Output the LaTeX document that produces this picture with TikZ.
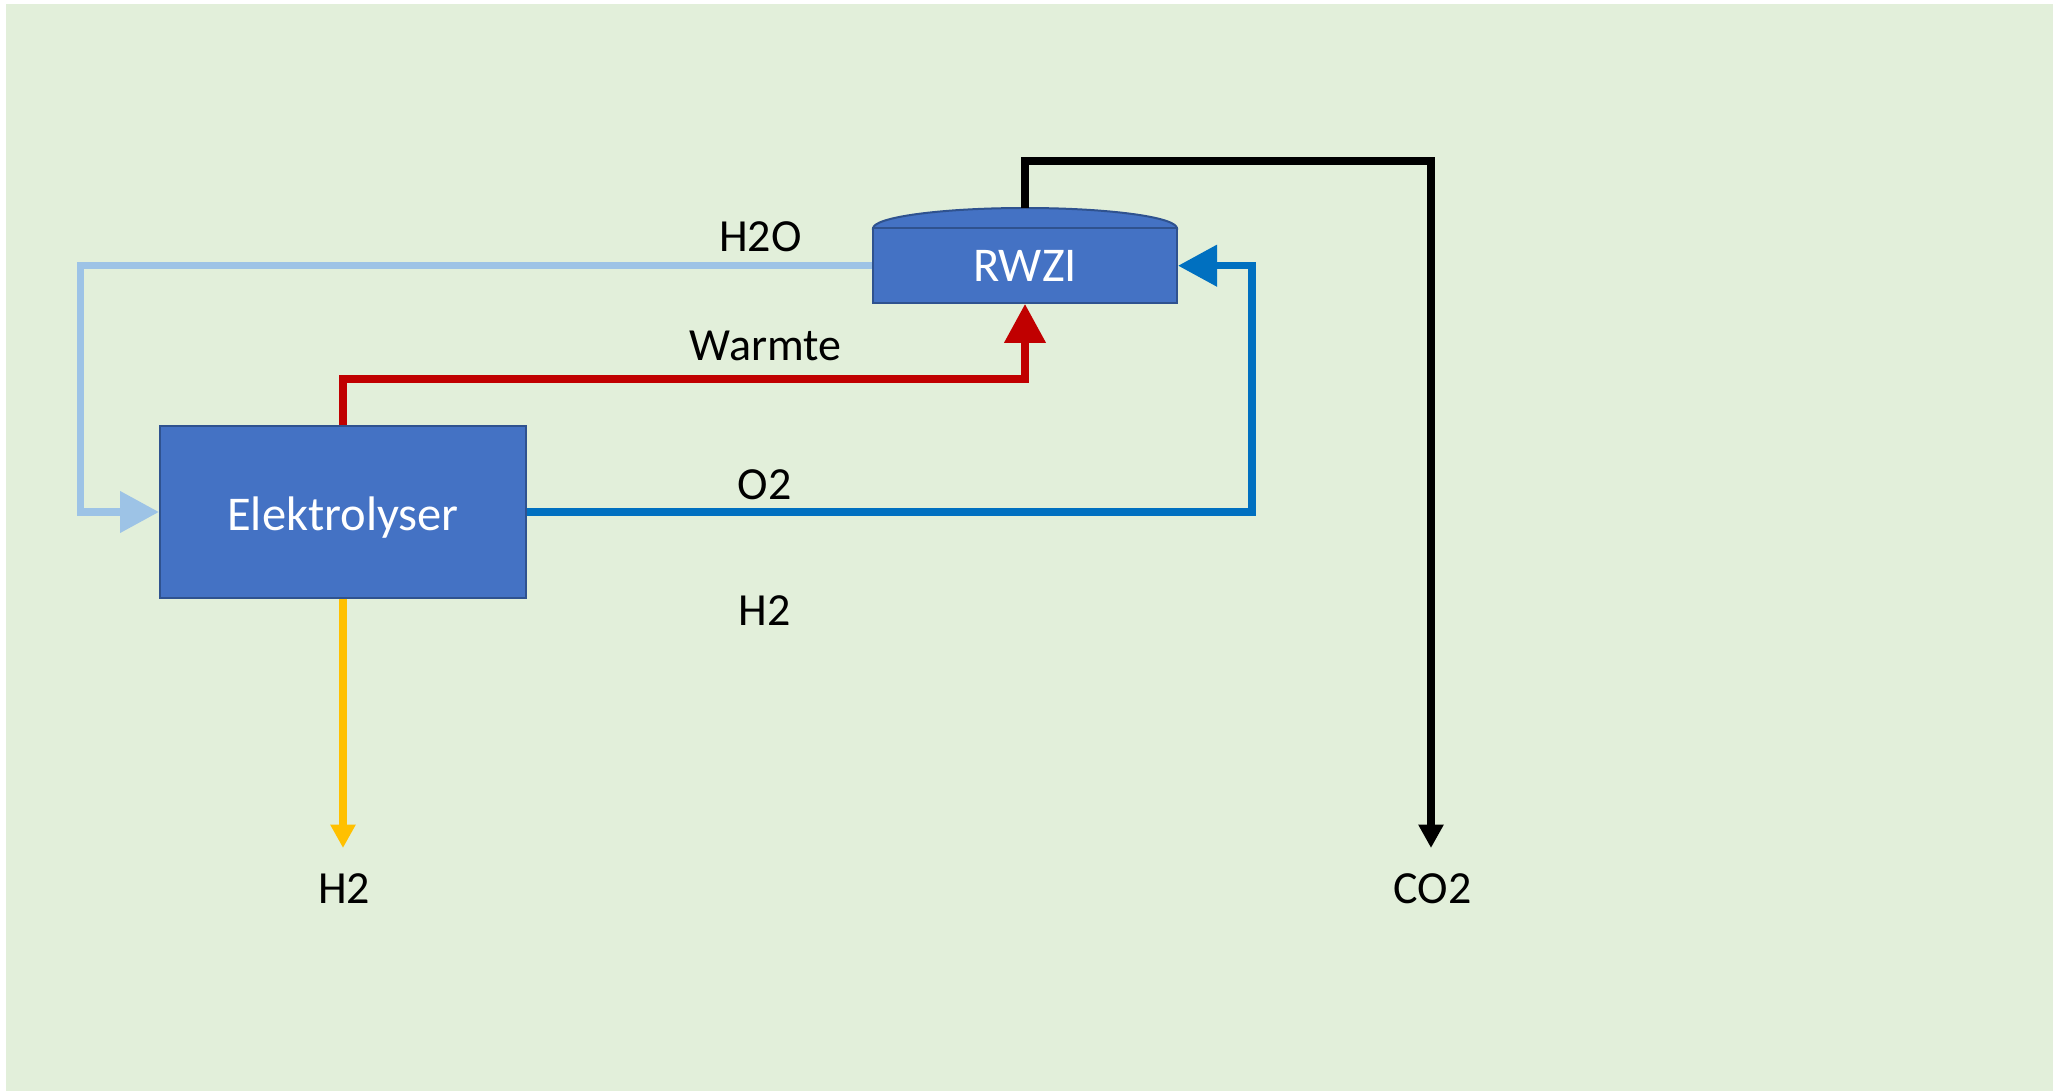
\documentclass[tikz,border=0pt]{standalone}
\usepackage{fontspec}
\setmainfont{Carlito}
\usetikzlibrary{arrows.meta}
\definecolor{bg}{HTML}{E2EFDA}
\definecolor{boxfill}{HTML}{4472C4}
\definecolor{boxline}{HTML}{2F528F}
\definecolor{lblue}{HTML}{9DC3E6}
\definecolor{dred}{HTML}{C00000}
\definecolor{mblue}{HTML}{0070C0}
\definecolor{gold}{HTML}{FFC000}
\begin{document}
\begin{tikzpicture}[x=1pt,y=-1pt,
  txt/.style={font=\fontsize{46}{55}\selectfont, text height=29.5pt, text depth=0pt, inner sep=0pt},
  proc/.style={font=\fontsize{48.5}{58}\selectfont, text height=31pt, text depth=0pt, inner sep=0pt, draw=boxline, line width=2pt, fill=boxfill, text=white},
  lbl/.style={txt, text=black},
  flow/.style={line width=7.5pt},
  bighead/.style={-{Triangle[length=39pt,width=40pt]}},
  smallhead/.style={-{Triangle[length=23.5pt,width=24pt]}}]
\useasboundingbox (0,0) rectangle (2057,1091);
\fill[bg] (6,4) rectangle (2053,1091);

% process boxes
\node[proc, minimum width=366pt, minimum height=172pt] (elek) at (343,512) {\raisebox{-2.5pt}{Elektrolyser}};
\filldraw[draw=boxline, line width=2pt, fill=boxfill]
  (873,228.5) .. controls (873,217.2) and (941,208) .. (1025,208)
  .. controls (1109,208) and (1177,217.2) .. (1177,228.5) -- cycle;
\node[proc, minimum width=304pt, minimum height=74.5pt] (rwzi) at (1025,265.7) {RWZI};
\coordinate (dometop) at (1025,208);
\coordinate (h2end) at (343,848);
\coordinate (co2end) at (1431,848);

% connectors
\draw[flow, lblue, bighead] (rwzi.west) -| (80.5,512) -- (elek.west);
\draw[flow, dred, bighead] (elek.north) |- (1025,379) -- (rwzi.south);
\draw[flow, mblue, bighead] (elek.east) -| (1252,265.7) -- (rwzi.east);
\draw[flow, black, smallhead] (dometop) |- (1431,161) -- (co2end);
\draw[flow, gold, smallhead] (elek.south) -- (h2end);

% labels
\node[lbl] (lh2o) at (760.5,236.7) {H2O};
\node[lbl] (lwarm) at (765.5,346) {Warmte};
\node[lbl] (lo2) at (764.5,485) {O2};
\node[lbl] (lh2a) at (764.5,611) {H2};
\node[lbl] (lh2b) at (344,888.5) {H2};
\node[lbl] (lco2) at (1432.5,889) {CO2};
\end{tikzpicture}
\end{document}
